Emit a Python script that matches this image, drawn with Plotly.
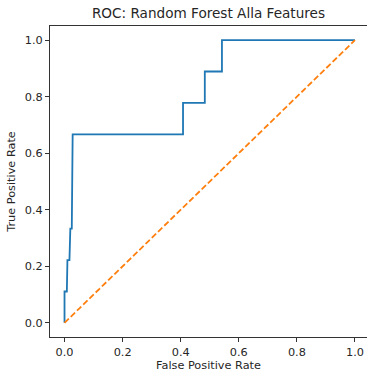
import plotly.graph_objects as go

# ROC curve points (false positive rate, true positive rate)
fpr = [0.0, 0.0, 0.008, 0.010, 0.017, 0.020, 0.025, 0.028, 0.408, 0.408, 0.483, 0.483, 0.542, 0.542, 1.0]
tpr = [0.0, 0.111, 0.111, 0.222, 0.222, 0.333, 0.333, 0.667, 0.667, 0.778, 0.778, 0.889, 0.889, 1.0, 1.0]

# chance diagonal
diag_x = [0.0, 1.0]
diag_y = [0.0, 1.0]

tick_vals = [0.0, 0.2, 0.4, 0.6, 0.8, 1.0]
tick_text = ["0.0", "0.2", "0.4", "0.6", "0.8", "1.0"]

font_family = "DejaVu Sans"
text_color = "#262626"
label_size = 11.3

fig = go.Figure()
fig.add_trace(go.Scatter(
    x=fpr, y=tpr, mode="lines",
    line=dict(color="#1f77b4", width=1.8),
    showlegend=False, hoverinfo="skip",
))
fig.add_trace(go.Scatter(
    x=diag_x, y=diag_y, mode="lines",
    line=dict(color="#ff7f0e", width=1.8, dash="6px,2.7px"),
    showlegend=False, hoverinfo="skip",
))

axis_common = dict(
    showgrid=False, zeroline=False,
    showline=True, linecolor="#333333", linewidth=1,
    ticks="outside", ticklen=4, tickwidth=1, tickcolor="#333333",
    tickvals=tick_vals, ticktext=tick_text,
    tickfont=dict(family=font_family, size=label_size, color=text_color),
)

fig.update_layout(
    width=367, height=376,
    margin=dict(l=50, r=0, t=25.5, b=39),
    paper_bgcolor="white", plot_bgcolor="white",
    title=dict(
        text="ROC: Random Forest Alla Features",
        x=0.5, xref="paper", xanchor="center",
        y=1 - 13 / 376, yanchor="middle",
        font=dict(family=font_family, size=13.6, color=text_color),
    ),
    xaxis=dict(
        **axis_common,
        range=[-0.05, 1.0414],
        mirror=True,
        title=dict(text="False Positive Rate", standoff=3,
                   font=dict(family=font_family, size=label_size, color=text_color)),
    ),
    yaxis=dict(
        **axis_common,
        range=[-0.05, 1.05],
        title=dict(text="True Positive Rate", standoff=6,
                   font=dict(family=font_family, size=label_size, color=text_color)),
    ),
)

fig.write_html("out.html")
